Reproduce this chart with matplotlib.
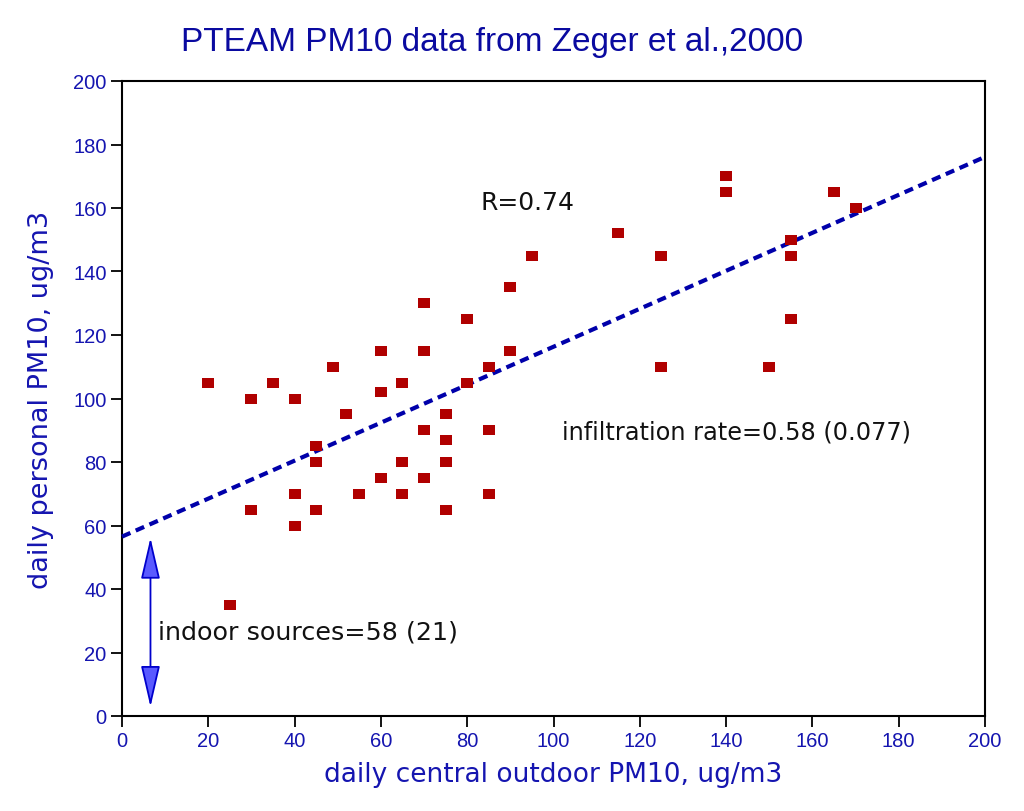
import matplotlib
matplotlib.use("Agg")
import matplotlib.pyplot as plt
from matplotlib.path import Path
from matplotlib.patches import FancyArrowPatch
import numpy as np

# ---- data ----
outdoor = [20, 25, 30, 30, 35, 40, 40, 40, 45, 45, 45, 49, 52, 55, 60, 60, 60,
           65, 65, 65, 70, 70, 70, 70, 75, 75, 75, 75, 80, 80, 85, 85, 85,
           90, 90, 95, 115, 125, 125, 140, 140, 150, 155, 155, 155, 165, 170]
personal = [105, 35, 100, 65, 105, 100, 70, 60, 85, 80, 65, 110, 95, 70, 115, 102, 75,
            105, 80, 70, 130, 115, 90, 75, 95, 87, 80, 65, 125, 105, 110, 90, 70,
            135, 115, 145, 152, 145, 110, 170, 165, 110, 150, 145, 125, 165, 160]
fit_intercept = 56.5
fit_slope = 0.598
fit_x = [0, 200]
arrow_x = 6.6
arrow_y = [2, 57]
xticks = [0, 20, 40, 60, 80, 100, 120, 140, 160, 180, 200]
yticks = [0, 20, 40, 60, 80, 100, 120, 140, 160, 180, 200]

title = "PTEAM PM10 data from Zeger et al.,2000"
xlabel = "daily central outdoor PM10, ug/m3"
ylabel = "daily personal PM10, ug/m3"

plt.rcParams['font.family'] = ['Liberation Sans', 'DejaVu Sans']
BLUE = '#1515b0'
TITLE_BLUE = '#0a0aa0'
WIDE = ['DejaVu Sans']

fig = plt.figure(figsize=(10.24, 8.12), dpi=100)
ax = fig.add_axes([122/1024, 1-717/812, (985-122)/1024, (717-82)/812])

# regression line
fx = np.array(fit_x, dtype=float)
ax.plot(fx, fit_intercept + fit_slope*fx, color='#0000aa', lw=3.0,
        dashes=(2.2, 1.4), zorder=3, solid_capstyle='butt', clip_on=False)

# rectangle marker
rect = Path([(-0.65, -0.5), (0.65, -0.5), (0.65, 0.5), (-0.65, 0.5), (-0.65, -0.5)],
            [Path.MOVETO, Path.LINETO, Path.LINETO, Path.LINETO, Path.CLOSEPOLY])
ax.scatter(outdoor, personal, marker=rect, s=82, color='#b00000', lw=0, zorder=4)

# arrow
arr = FancyArrowPatch((arrow_x, arrow_y[0]), (arrow_x, arrow_y[1]),
                      arrowstyle='<|-|>,head_length=1.85,head_width=0.43',
                      mutation_scale=14, lw=1.3,
                      facecolor='#5a5aff', edgecolor='#0000cc', zorder=5)
ax.add_patch(arr)

ax.text(83, 162, "R=0.74", fontsize=18, family=WIDE, color='#111111',
        va='center', ha='left')
ax.text(102, 89.5, "infiltration rate=0.58 (0.077)", fontsize=17.3, family=WIDE,
        color='#111111', va='center', ha='left')
ax.text(8.3, 26.5, "indoor sources=58 (21)", fontsize=18.3, family=WIDE,
        color='#111111', va='center', ha='left')

ax.set_xlim(0, 200)
ax.set_ylim(0, 200)
ax.set_xticks(xticks)
ax.set_yticks(yticks)
ax.tick_params(direction='out', length=8, width=1.3, colors='black', pad=3,
               labelcolor=BLUE, labelsize=14.5, top=False, right=False)
for s in ax.spines.values():
    s.set_linewidth(1.5)
    s.set_color('black')

ax.set_xlabel(xlabel, fontsize=19, family=WIDE, color=BLUE, labelpad=8)
ax.set_ylabel(ylabel, fontsize=19.5, family=WIDE, color=BLUE, labelpad=14)
fig.text(0.481, 0.948, title, fontsize=24, color=TITLE_BLUE, ha='center', va='center')

fig.savefig("out.png", dpi=100)
